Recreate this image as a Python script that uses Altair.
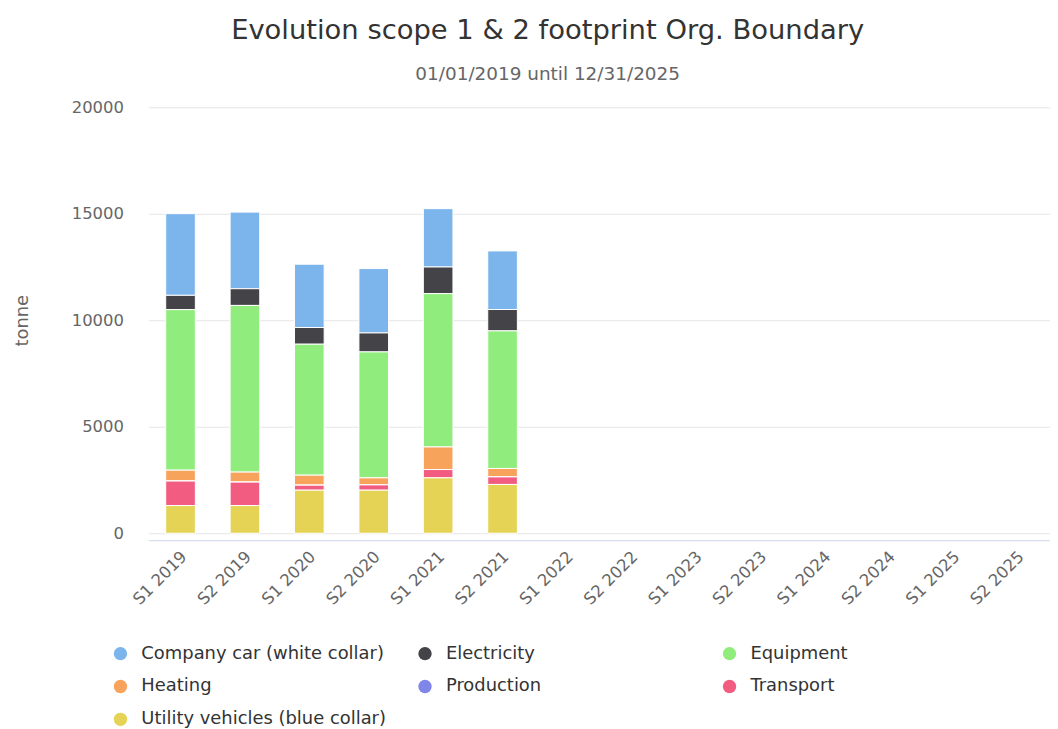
import altair as alt
import pandas as pd

periods = ["S1 2019", "S2 2019", "S1 2020", "S2 2020", "S1 2021", "S2 2021",
           "S1 2022", "S2 2022", "S1 2023", "S2 2023", "S1 2024", "S2 2024",
           "S1 2025", "S2 2025"]
data_periods = periods[:6]

categories = ["Company car (white collar)", "Electricity", "Equipment", "Heating",
              "Production", "Transport", "Utility vehicles (blue collar)"]
colors = ["#7cb5ec", "#434348", "#90ed7d", "#f7a35c", "#8085e9", "#f15c80", "#e4d354"]

company_car = [3835, 3597, 2972, 3023, 2740, 2752]
electricity = [670, 784, 784, 892, 1250, 1004]
equipment = [7540, 7826, 6150, 5912, 7200, 6460]
heating = [510, 470, 470, 330, 1060, 395]
production = [0, 0, 0, 0, 0, 0]
transport = [1150, 1100, 235, 250, 390, 355]
utility = [1300, 1300, 2020, 2020, 2600, 2290]

series = [company_car, electricity, equipment, heating, production, transport, utility]

rows = []
for ci, (cat, vals) in enumerate(zip(categories, series)):
    for p, v in zip(data_periods, vals):
        rows.append({"period": p, "category": cat, "value": v,
                     "stack_order": len(categories) - 1 - ci})
df = pd.DataFrame(rows)

FONT = "DejaVu Sans"

chart = alt.Chart(df).mark_bar(stroke="white", strokeWidth=1).encode(
    x=alt.X("period:N", sort=periods,
            scale=alt.Scale(domain=periods, paddingInner=0.54, paddingOuter=0.27),
            axis=alt.Axis(title=None, labelAngle=-45, labelFontSize=16.5,
                          labelColor="#666666", domainColor="#ccd6eb", ticks=False,
                          offset=7, labelPadding=8, labelOffset=-2, grid=False)),
    y=alt.Y("value:Q", stack="zero",
            scale=alt.Scale(domain=[0, 20000], nice=False),
            axis=alt.Axis(title="tonne", values=[0, 5000, 10000, 15000, 20000],
                          format="d", domain=False, ticks=False, labelPadding=25,
                          labelFontSize=16.5, labelColor="#666666",
                          gridColor="#e6e6e6", titleFontSize=18,
                          titleColor="#666666", titleFontWeight="normal",
                          titlePadding=40)),
    color=alt.Color("category:N",
                    scale=alt.Scale(domain=categories, range=colors),
                    legend=alt.Legend(title=None, orient="none", legendX=-37,
                                      legendY=540, columns=3, gridAlign="all",
                                      direction="horizontal",
                                      columnPadding=30, rowPadding=15,
                                      symbolType="circle", symbolSize=180,
                                      symbolStrokeWidth=0, labelFontSize=18,
                                      labelColor="#333333", labelLimit=400,
                                      labelOffset=12, padding=0)),
    order=alt.Order("stack_order:Q", sort="ascending"),
).properties(
    width=906,
    height=428,
    padding={"left": 5, "top": 7, "right": 0, "bottom": 5},
    title=alt.TitleParams(
        text="Evolution scope 1 & 2 footprint Org. Boundary",
        subtitle="01/01/2019 until 12/31/2025",
        fontSize=27.5, fontWeight="normal", color="#333333",
        subtitleFontSize=18.5, subtitleColor="#666666",
        anchor="middle", frame="bounds", offset=16, subtitlePadding=21,
        dx=16, font=FONT, subtitleFont=FONT,
    ),
).configure(
    font=FONT,
).configure_view(
    stroke=None,
)

chart.save("out.html", embed_options={"renderer": "svg", "actions": False})
